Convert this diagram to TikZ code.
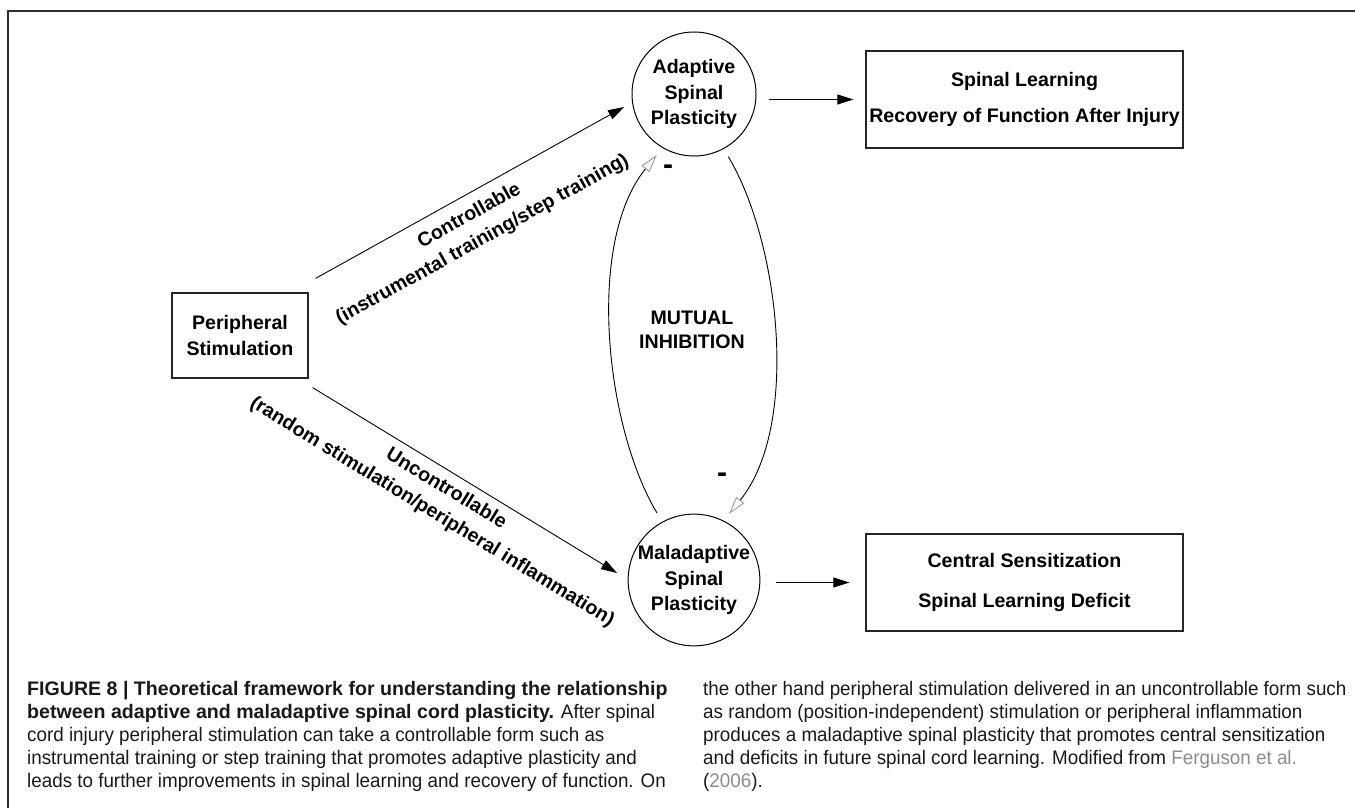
\documentclass[tikz,border=0pt]{standalone}
\usepackage{fontspec}
\setmainfont{Liberation Sans}
\newfontfamily\capfont[FakeStretch=0.96]{Liberation Sans}
\newfontfamily\capboldfont{Liberation Sans}
\newcommand{\figbold}[1]{{\capboldfont\bfseries #1}}
\usetikzlibrary{arrows.meta}
\definecolor{framegray}{HTML}{303030}
\definecolor{linkgray}{HTML}{8C8C8C}
\definecolor{tipgray}{HTML}{9A9A9A}

\begin{document}
\begin{tikzpicture}[
  x = 1pt, y = -1pt,
  > = {Triangle[length=16pt,width=10pt]},
  every node/.style = {font=\bfseries\fontsize{19.6}{25.5}\selectfont},
  plast/.style = {draw, circle, minimum size=124pt, inner sep=0pt, align=center, line width=1pt},
  outbox/.style = {draw=black!85, line width=1.3pt, minimum width=317pt, minimum height=97pt, inner sep=0pt, align=center},
  flow/.style = {->, line width=0.9pt},
  inhib/.style = {-{Triangle[open,length=18pt,width=10pt,color=tipgray]}, line width=0.9pt},
  sign/.style = {font=\bfseries\fontsize{30}{30}\selectfont, inner sep=0pt},
  captext/.style = {font=\capfont\fontsize{19.6}{23}\selectfont, anchor=north west, align=left, inner sep=0pt, text=black!90}
  ]
  \useasboundingbox (0,0) rectangle (1355,808);
  \draw[framegray, line width=2.5pt] (8,808) |- (1355,11);

  % boxes and circles
  \node[draw=black!85, line width=1.3pt, minimum width=136pt, minimum height=85pt, inner sep=0pt, align=center] (stim) at (240,335.5) {Peripheral\\Stimulation};
  \node[plast] (ada) at (694,94) {Adaptive\\Spinal\\Plasticity};
  \node[plast] (mal) at (694,580) {Maladaptive\\Spinal\\Plasticity};
  \node[outbox] (lrn) at (1024.5,99.5) {Spinal Learning\\[10.5pt]Recovery of Function After Injury};
  \node[outbox] (sens) at (1024.5,582.5) {Central Sensitization\\[14.5pt]Spinal Learning Deficit};
  \node[align=center, font=\bfseries\fontsize{19.6}{24}\selectfont] (mutual) at (692,330) {MUTUAL\\INHIBITION};

  % stimulation paths
  \draw[flow] ([shift={(7,-14)}]stim.north east) -- ([shift={(-70,13)}]ada.center);
  \draw[flow] ([shift={(4,9)}]stim.south east) -- ([shift={(-77,-7)}]mal.center);
  \node[rotate=29, align=center, font=\bfseries\fontsize{19.6}{27}\selectfont] (ctrl) at (476,228) {Controllable\\(instrumental training/step training)};
  \node[rotate=-31.4, align=center, font=\bfseries\fontsize{19.6}{27}\selectfont] (unctrl) at (439,500.7) {Uncontrollable\\(random stimulation/peripheral inflammation)};

  % outcomes
  \draw[flow, shorten <=12pt, shorten >=12pt] (ada.east |- lrn.west) -- (lrn.west);
  \draw[flow, shorten <=16pt, shorten >=16pt] (mal.east |- sens.west) -- (sens.west);

  % mutual inhibition
  \draw[inhib] ([shift={(-37,-67)}]mal.center) .. controls +(-51.3,-85.4) and +(-71.3,88.1) .. ([shift={(-37.3,61)}]ada.center);
  \draw[inhib] ([shift={(34.3,62.7)}]ada.center) .. controls +(51.3,85.4) and +(71.3,-88.1) .. ([shift={(35,-66)}]mal.center);
  \node[sign] (minus1) at (668,170) {-};
  \node[sign] (minus2) at (722,478) {-};

  % caption
  \node[captext] (capleft) at (27,681) {\figbold{FIGURE 8 | Theoretical framework for understanding the relationship}\\
    \figbold{between adaptive and maladaptive spinal cord plasticity.} After spinal\\
    cord injury peripheral stimulation can take a controllable form such as\\
    instrumental training or step training that promotes adaptive plasticity and\\
    leads to further improvements in spinal learning and recovery of function. On};
  \node[captext] (capright) at (703,681) {the other hand peripheral stimulation delivered in an uncontrollable form such\\
    as random (position-independent) stimulation or peripheral inflammation\\
    produces a maladaptive spinal plasticity that promotes central sensitization\\
    and deficits in future spinal cord learning. Modified from \textcolor{linkgray}{Ferguson et al.}\\
    (\textcolor{linkgray}{2006}).};
\end{tikzpicture}
\end{document}
